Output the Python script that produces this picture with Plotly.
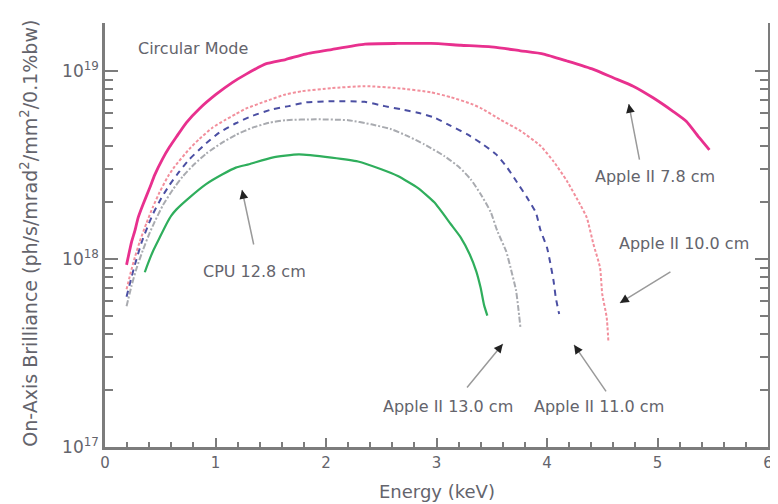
import plotly.graph_objects as go

# ---- data (energy in keV, brilliance in units of 1e18 ph/s/mrad^2/mm^2/0.1%bw) ----
e_78 = [0.195, 0.24, 0.27, 0.30, 0.344, 0.405, 0.45, 0.52, 0.585, 0.645, 0.735, 0.854, 1.004, 1.151,
        1.274, 1.454, 1.634, 1.814, 2.05, 2.353, 2.65, 2.95, 3.22, 3.52, 3.76, 3.97, 4.18, 4.42, 4.60,
        4.78, 4.96, 5.14, 5.26, 5.38, 5.47]
b_78 = [0.93, 1.23, 1.41, 1.66, 1.95, 2.39, 2.8, 3.4, 3.95, 4.45, 5.3, 6.3, 7.5, 8.67, 9.59, 10.9,
        11.5, 12.3, 13.0, 13.9, 14.0, 14.0, 13.7, 13.4, 12.8, 12.3, 11.3, 10.2, 9.2, 8.3, 7.2, 6.1, 5.4,
        4.4, 3.8]

e_100 = [0.195, 0.24, 0.27, 0.315, 0.375, 0.435, 0.495, 0.57, 0.63, 0.764, 0.854, 0.974, 1.079, 1.184,
         1.274, 1.454, 1.634, 1.78, 2.05, 2.35, 2.65, 2.95, 3.13, 3.31, 3.40, 3.58, 3.76, 3.94, 4.06,
         4.18, 4.30, 4.36, 4.42, 4.48, 4.50, 4.54, 4.556]
b_100 = [0.69, 0.88, 1.02, 1.24, 1.55, 1.9, 2.27, 2.75, 3.1, 3.85, 4.35, 5.0, 5.45, 5.9, 6.3, 6.9, 7.5,
         7.8, 8.1, 8.3, 8.1, 7.7, 7.25, 6.7, 6.35, 5.5, 4.8, 4.0, 3.3, 2.6, 1.95, 1.66, 1.2, 0.9, 0.65,
         0.49, 0.36]

e_110 = [0.195, 0.24, 0.27, 0.33, 0.39, 0.435, 0.51, 0.585, 0.674, 0.764, 0.915, 1.034, 1.184, 1.334,
         1.513, 1.664, 1.814, 2.05, 2.35, 2.53, 2.68, 2.83, 2.98, 3.13, 3.28, 3.42, 3.54, 3.64, 3.73,
         3.82, 3.90, 3.94, 4.00, 4.03, 4.06, 4.08, 4.11]
b_110 = [0.63, 0.80, 0.93, 1.22, 1.51, 1.74, 2.11, 2.48, 2.92, 3.39, 4.12, 4.7, 5.27, 5.77, 6.25, 6.5,
         6.8, 6.9, 6.85, 6.5, 6.25, 6.0, 5.65, 5.1, 4.6, 4.07, 3.6, 3.06, 2.55, 2.12, 1.76, 1.43, 1.15,
         0.95, 0.76, 0.62, 0.51]

e_130 = [0.195, 0.24, 0.285, 0.344, 0.405, 0.45, 0.524, 0.614, 0.704, 0.81, 0.915, 1.064, 1.184, 1.334,
         1.484, 1.634, 1.904, 2.20, 2.41, 2.59, 2.74, 2.89, 3.07, 3.21, 3.31, 3.40, 3.49, 3.55, 3.63,
         3.67, 3.72, 3.74, 3.76]
b_130 = [0.56, 0.72, 0.89, 1.12, 1.38, 1.58, 1.93, 2.34, 2.75, 3.2, 3.63, 4.17, 4.57, 4.99, 5.3, 5.47,
         5.53, 5.47, 5.2, 4.9, 4.5, 4.07, 3.53, 3.06, 2.65, 2.21, 1.78, 1.41, 1.10, 0.90, 0.68, 0.55,
         0.43]

e_cpu = [0.36, 0.375, 0.434, 0.495, 0.555, 0.60, 0.645, 0.764, 0.915, 1.064, 1.184, 1.304, 1.513,
         1.754, 2.05, 2.29, 2.50, 2.65, 2.83, 2.98, 3.13, 3.22, 3.30, 3.36, 3.40, 3.43, 3.46]
b_cpu = [0.85, 0.90, 1.10, 1.30, 1.53, 1.70, 1.83, 2.12, 2.5, 2.82, 3.06, 3.19, 3.46, 3.6, 3.46, 3.3,
         3.0, 2.76, 2.39, 2.0, 1.53, 1.30, 1.06, 0.86, 0.70, 0.57, 0.50]

SCALE = 1e18

x_ticks = [0, 1, 2, 3, 4, 5, 6]
x_minor = [i / 5 for i in range(0, 31)]
y_tickvals = [1e17, 1e18, 1e19]
y_ticktext = ["10<sup>17</sup>", "10<sup>18</sup>", "10<sup>19</sup>"]
y_minor = [m * d for d in (1e17, 1e18, 1e19) for m in range(2, 10)]

label_text = ["Circular Mode", "CPU 12.8 cm", "Apple II 7.8 cm", "Apple II 10.0 cm",
              "Apple II 13.0 cm", "Apple II 11.0 cm"]
label_x = [0.80, 1.35, 4.98, 5.24, 3.10, 4.47]
label_logy = [19.122, 17.936, 18.441, 18.08, 17.218, 17.218]

arrow_x = [1.24, 4.74, 4.66, 3.60, 4.245]
arrow_logy = [18.367, 18.824, 17.766, 17.548, 17.543]
arrow_ax = [12, 11, 52, -37, 33]
arrow_ay = [56, 57, -32, 45, 48]

Y_RANGE = [17, 19.255]

fig = go.Figure()

def add(e, b, color, width, dash, xax="x", yax="y"):
    fig.add_trace(go.Scatter(x=e, y=[v * SCALE for v in b], mode="lines", xaxis=xax, yaxis=yax,
                             line=dict(color=color, width=width, dash=dash, shape="spline", smoothing=0.5),
                             showlegend=False, hoverinfo="skip"))

add(e_cpu, b_cpu, "#2fae5c", 2.2, "solid", "x2", "y2")
add(e_130, b_130, "#a9abb0", 2.0, "6px,2px,2px,2px")
add(e_110, b_110, "#4b4fa3", 2.0, "6px,5px")
add(e_100, b_100, "#f28f9c", 2.0, "3px,2px")
add(e_78, b_78, "#e8308e", 2.8, "solid")

FONT = "DejaVu Sans"
TXT = "#64646c"
AX = "#7c7c7c"

for t, x, y in zip(label_text, label_x, label_logy):
    fig.add_annotation(x=x, y=y, xref="x", yref="y", text=t, showarrow=False,
                       font=dict(family=FONT, size=16, color=TXT))

for x, y, ax, ay in zip(arrow_x, arrow_logy, arrow_ax, arrow_ay):
    fig.add_annotation(x=x, y=y, xref="x", yref="y", ax=ax, ay=ay, axref="pixel", ayref="pixel",
                       text="", showarrow=True, arrowhead=0, arrowwidth=1.5, arrowcolor="#9a9a9a")
    n = (ax ** 2 + ay ** 2) ** 0.5
    fig.add_annotation(x=x, y=y, xref="x", yref="y", ax=ax / n * 9, ay=ay / n * 9,
                       text="", showarrow=True, arrowhead=2, arrowsize=1.1, arrowwidth=1.6,
                       arrowcolor="#222222")

fig.add_annotation(text="On-Axis Brilliance (ph/s/mrad<sup>2</sup>/mm<sup>2</sup>/0.1%bw)",
                   xref="paper", yref="paper", x=-0.115, y=0.505, textangle=-90, showarrow=False,
                   xanchor="center", yanchor="middle",
                   font=dict(family=FONT, size=19, color=TXT))
fig.add_annotation(text="Energy (keV)", xref="paper", yref="paper", x=0.5015, y=-0.106,
                   showarrow=False, xanchor="center", yanchor="middle",
                   font=dict(family=FONT, size=18, color=TXT))

# page body has an 8px margin, so the figure is 8px smaller and shifted
fig.update_layout(
    width=770, height=496,
    margin=dict(l=97, r=5, t=15, b=57),
    paper_bgcolor="white", plot_bgcolor="white",
    xaxis=dict(range=[0, 6], tickvals=x_ticks, ticks="inside", ticklen=9, tickwidth=2.2,
               tickcolor=AX, showline=True, linecolor=AX, linewidth=2.5,
               showgrid=False, zeroline=False, mirror=False,
               tickfont=dict(family=FONT, size=15, color=TXT)),
    xaxis2=dict(range=[0, 6], overlaying="x", side="bottom", tickvals=x_minor, ticks="inside",
                ticklen=5, tickwidth=1.6, tickcolor=AX, showticklabels=False, showline=False,
                showgrid=False, zeroline=False),
    yaxis=dict(type="log", range=Y_RANGE, tickvals=y_tickvals, ticktext=y_ticktext,
               ticks="inside", ticklen=13, tickwidth=2.2, tickcolor=AX,
               showline=True, linecolor=AX, linewidth=2.5, mirror="ticks",
               showgrid=False, zeroline=False,
               tickfont=dict(family=FONT, size=17, color=TXT)),
    yaxis2=dict(type="log", range=Y_RANGE, overlaying="y", side="left", tickvals=y_minor,
                ticks="inside", ticklen=8, tickwidth=1.8, tickcolor=AX, showticklabels=False,
                showline=False, mirror="ticks", showgrid=False, zeroline=False),
)

fig.write_html("out.html")
